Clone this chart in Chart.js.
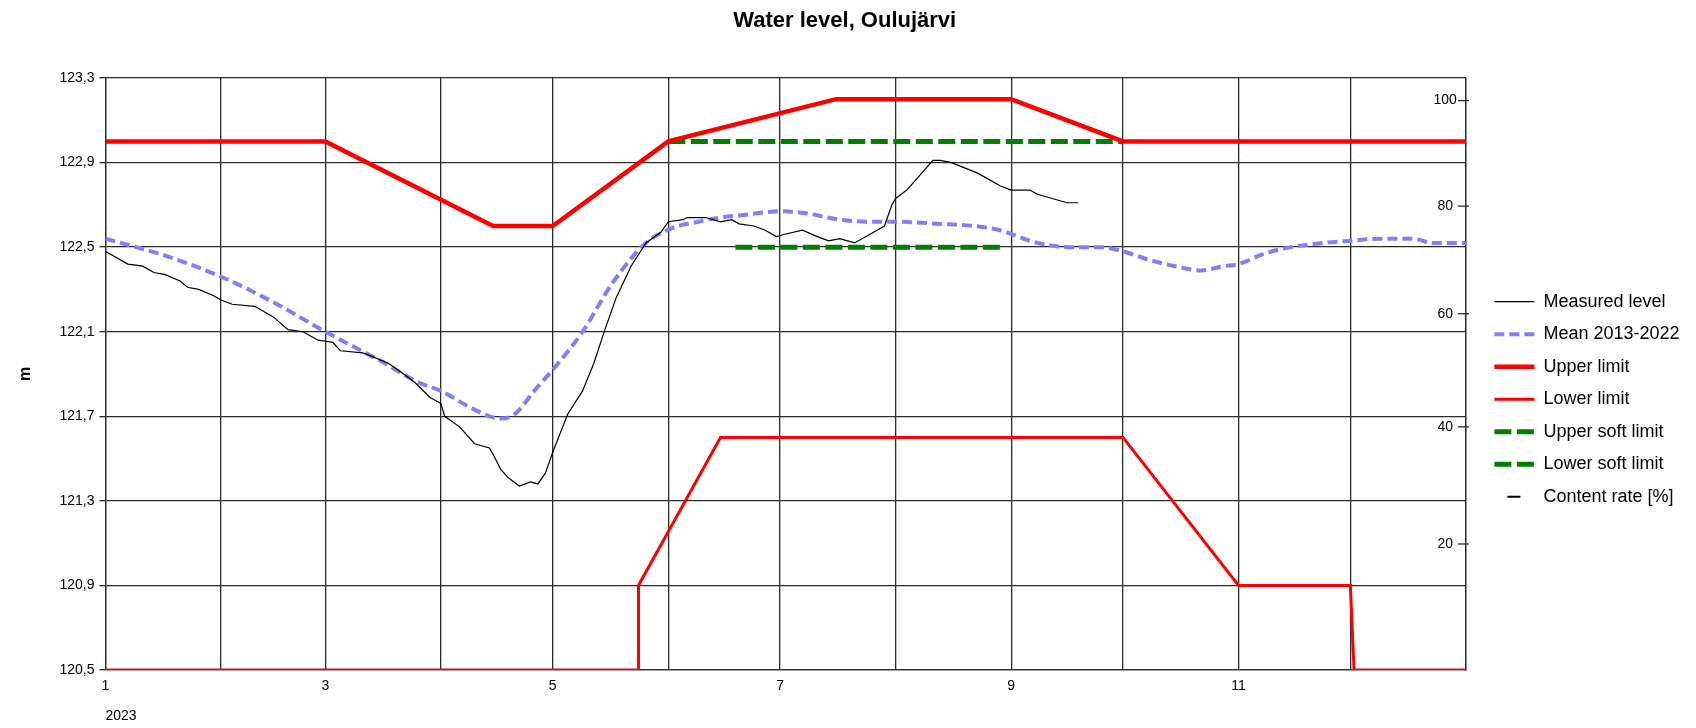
<!DOCTYPE html>
<html lang="en">
<head>
<meta charset="UTF-8">
<title>Water level, Oulujärvi</title>
<script src="https://cdn.jsdelivr.net/npm/chart.js"></script>
<style>
  html, body { margin: 0; padding: 0; background: #fff; }
  #wrap { width: 1696px; height: 728px; }
</style>
</head>
<body>
<div id="wrap"><canvas id="levelChart" width="1696" height="728"></canvas></div>
<script>
// x axis: day of year 2023, grid on every month start, label on odd months
const monthStarts = [0, 31, 59, 90, 120, 151, 181, 212, 243, 273, 304, 334, 365];
const monthLabels = ['1', '', '3', '', '5', '', '7', '', '9', '', '11', '', ''];
const yearLabel = '2023';

// left axis (m)
const levelTicks = [120.5, 120.9, 121.3, 121.7, 122.1, 122.5, 122.9, 123.3];
// right axis: content rate [%] and the level it sits at
const contentTicks = [20, 40, 60, 80, 100];
const contentLevels = [121.096, 121.65, 122.185, 122.694, 123.193];

// Measured level
const measuredDays = [0, 3, 6, 10, 13, 16, 20, 22, 25, 29, 31, 34, 40, 42, 45, 49, 53, 57, 61, 63,
  69, 72, 76, 80, 83, 87, 90, 91, 95, 99, 103, 104, 106, 108, 111, 114, 116, 118, 120, 124,
  128, 131, 134, 137, 141, 145, 149, 151, 155, 156, 161, 165, 168, 170, 174, 177, 180, 182, 187, 191,
  194, 197, 201, 205, 209, 211, 212, 215, 217, 222, 224, 227, 234, 240, 243, 248, 250, 254, 258, 261];
const measuredLevel = [122.48, 122.45, 122.42, 122.41, 122.38, 122.37, 122.34, 122.31, 122.30, 122.27,
  122.25, 122.23, 122.22, 122.20, 122.17, 122.11, 122.10, 122.06, 122.05, 122.01,
  122.00, 121.98, 121.95, 121.90, 121.86, 121.79, 121.76, 121.70, 121.65, 121.57,
  121.55, 121.52, 121.45, 121.41, 121.37, 121.39, 121.38, 121.43, 121.53, 121.71,
  121.82, 121.95, 122.11, 122.26, 122.41, 122.52, 122.57, 122.62, 122.63, 122.64,
  122.64, 122.62, 122.63, 122.61, 122.60, 122.58, 122.55, 122.56, 122.58, 122.55,
  122.53, 122.54, 122.52, 122.56, 122.60, 122.70, 122.73, 122.77, 122.81, 122.91,
  122.91, 122.90, 122.85, 122.79, 122.77, 122.77, 122.75, 122.73, 122.71, 122.71];

// Mean 2013-2022
const meanDays = [0, 16, 31, 45, 59, 74, 84, 90, 97, 103, 106, 109, 111, 115, 120, 128, 136, 145, 152, 159,
  165, 170, 182, 188, 197, 206, 212, 224, 233, 240, 250, 259, 267, 273, 280, 287, 294, 300, 304, 311,
  318, 327, 334, 342, 351, 356, 365];
const meanLevel = [122.54, 122.46, 122.36, 122.24, 122.10, 121.96, 121.86, 121.82, 121.75, 121.70,
  121.69, 121.70, 121.73, 121.82, 121.92, 122.10, 122.33, 122.52, 122.59, 122.62,
  122.64, 122.65, 122.67, 122.66, 122.63, 122.62, 122.62, 122.61, 122.60, 122.58,
  122.52, 122.50, 122.50, 122.48, 122.44, 122.41, 122.39, 122.41, 122.42, 122.47,
  122.50, 122.52, 122.53, 122.54, 122.54, 122.52, 122.52];

// regulation limits
const upperDays = [0, 59, 104, 120, 151, 196, 243, 273, 365];
const upperLevel = [123.0, 123.0, 122.6, 122.6, 123.0, 123.2, 123.2, 123.0, 123.0];
const lowerDays = [0, 143, 143, 165, 273, 304, 334, 335, 365];
const lowerLevel = [120.5, 120.5, 120.9, 121.6, 121.6, 120.9, 120.9, 120.5, 120.5];
const upperSoftDays = [151, 273];
const upperSoftLevel = [123.0, 123.0];
const lowerSoftDays = [169, 241];
const lowerSoftLevel = [122.5, 122.5];

const gridColor = '#2b2b2b';
const font = "'Liberation Sans', Arial, sans-serif";
Chart.defaults.font.family = font;
Chart.defaults.color = '#000';

const pts = (xs, ys) => xs.map((x, i) => ({ x: x, y: ys[i] }));

// short tick marks across the right axis line
const rightTicks = {
  id: 'rightTicks',
  afterDraw(chart) {
    const s = chart.scales.y2;
    const ctx = chart.ctx;
    ctx.save();
    ctx.strokeStyle = gridColor;
    ctx.lineWidth = 1.3;
    s.ticks.forEach(t => {
      const y = s.getPixelForValue(t.value);
      ctx.beginPath();
      ctx.moveTo(s.left - 8, y);
      ctx.lineTo(s.left + 3, y);
      ctx.stroke();
    });
    ctx.restore();
  }
};

new Chart(document.getElementById('levelChart'), {
  type: 'line',
  data: {
    datasets: [
      { label: 'Measured level', data: pts(measuredDays, measuredLevel), borderColor: '#000', borderWidth: 1.2 },
      { label: 'Mean 2013-2022', data: pts(meanDays, meanLevel), borderColor: '#8080ff', borderWidth: 4,
        borderDash: [10, 5], cubicInterpolationMode: 'monotone' },
      { label: 'Upper limit', data: pts(upperDays, upperLevel), borderColor: '#ff0000', borderWidth: 4.5 },
      { label: 'Lower limit', data: pts(lowerDays, lowerLevel), borderColor: '#ff0000', borderWidth: 3 },
      { label: 'Upper soft limit', data: pts(upperSoftDays, upperSoftLevel), borderColor: '#008000', borderWidth: 5,
        borderDash: [17, 5.5] },
      { label: 'Lower soft limit', data: pts(lowerSoftDays, lowerSoftLevel), borderColor: '#008000', borderWidth: 5,
        borderDash: [17, 5.5] },
      { label: 'Content rate [%]', data: [], yAxisID: 'y2', borderColor: '#000', borderWidth: 2,
        borderDash: [13, 200], borderDashOffset: -13 }
    ]
  },
  options: {
    responsive: false,
    animation: false,
    events: [],
    layout: { padding: { left: 0, right: 6.5, top: 0, bottom: 0 } },
    elements: { point: { radius: 0 }, line: { fill: false, tension: 0 } },
    scales: {
      x: {
        type: 'linear', min: 0, max: 365,
        afterBuildTicks: s => { s.ticks = monthStarts.map(v => ({ value: v })); },
        afterFit: s => { s.height = 58; },
        ticks: { autoSkip: false, maxRotation: 0, padding: 7.5, font: { size: 14 }, color: '#000',
          callback: (v, i) => monthLabels[i] },
        grid: { color: gridColor, lineWidth: 1.3, drawTicks: false },
        border: { color: gridColor, width: 1.3 },
        title: { display: true, text: yearLabel, align: 'start', font: { size: 14 }, color: '#000',
          padding: { top: 0, bottom: 3.6 } }
      },
      y: {
        min: 120.5, max: 123.3,
        afterBuildTicks: s => { s.ticks = levelTicks.map(v => ({ value: v })); },
        afterFit: s => { s.width = 105.5; },
        ticks: { padding: 5, font: { size: 14 }, color: '#000',
          callback: v => v.toFixed(1).replace('.', ',') },
        grid: { color: gridColor, lineWidth: 1.3, tickLength: 6 },
        border: { color: gridColor, width: 1.3 },
        title: { display: true, text: 'm', font: { size: 16, weight: 'bold' }, color: '#000',
          padding: { top: 15.8, bottom: 0 } }
      },
      y2: {
        position: 'right', min: 120.5, max: 123.3,
        afterBuildTicks: s => { s.ticks = contentLevels.map(v => ({ value: v })); },
        afterFit: s => { s.width = 14; },
        ticks: { mirror: true, crossAlign: 'center', padding: -9, font: { size: 14 }, color: '#000',
          callback: (v, i) => String(contentTicks[i]) },
        grid: { drawOnChartArea: false, drawTicks: false },
        border: { color: gridColor, width: 1.3 }
      }
    },
    plugins: {
      title: { display: true, text: 'Water level, Oulujärvi', color: '#000',
        font: { size: 22, weight: 'bold' }, padding: { top: 7.8, bottom: 43.8 } },
      legend: {
        position: 'right', align: 'center', fullSize: false,
        title: { display: true, text: '', font: { size: 12 }, padding: { top: 36, bottom: 0 } },
        labels: {
          usePointStyle: true, pointStyleWidth: 40, padding: 14.5, color: '#000',
          font: { size: 18 },
          generateLabels: chart => chart.data.datasets.map((ds, i) => ({
            text: ds.label, datasetIndex: i, hidden: false,
            strokeStyle: ds.borderColor, fillStyle: ds.borderColor, fontColor: '#000',
            lineWidth: ds.borderWidth, lineDash: ds.borderDash || [], lineDashOffset: ds.borderDashOffset || 0,
            lineCap: 'butt', pointStyle: 'line'
          }))
        }
      },
      tooltip: { enabled: false }
    }
  },
  plugins: [rightTicks]
});
</script>
</body>
</html>
